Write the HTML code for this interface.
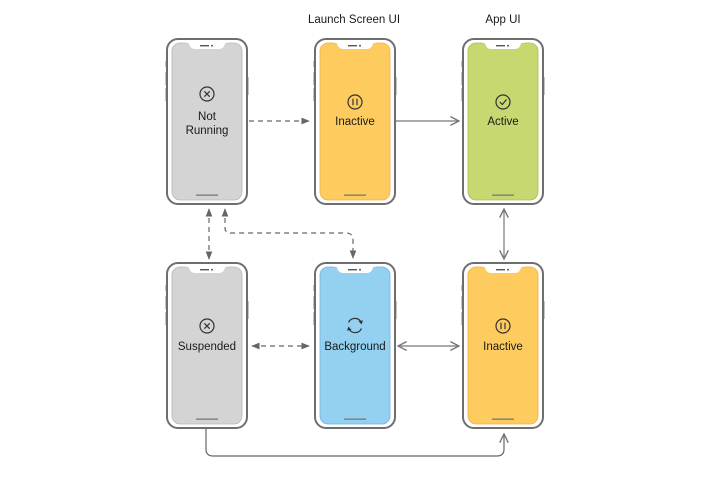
<!DOCTYPE html>
<html><head><style>
html,body{margin:0;padding:0;background:#fff;}
svg{display:block;}
text{font-family:"Liberation Sans",sans-serif;font-size:11.5px;fill:#1a1a1a;}
</style></head><body>
<svg width="714" height="477" viewBox="0 0 714 477" xmlns="http://www.w3.org/2000/svg">
<defs>
<marker id="tri" viewBox="0 0 10 10" refX="9" refY="5" markerWidth="7" markerHeight="7" orient="auto-start-reverse"><path d="M0,1 L10,5 L0,9 z" fill="#666"/></marker>
<marker id="chev" viewBox="0 0 10 10" refX="9" refY="5" markerWidth="9" markerHeight="9" orient="auto-start-reverse"><path d="M1,1 L9,5 L1,9" fill="none" stroke="#777" stroke-width="1.3"/></marker>
<g id="phone">
<rect x="-1.5" y="22" width="2" height="6" fill="#888"/>
<rect x="-1.5" y="33" width="2" height="13" fill="#888"/>
<rect x="-1.5" y="49" width="2" height="13" fill="#888"/>
<rect x="79.5" y="38" width="2" height="18" fill="#888"/>
<rect x="0" y="0" width="80" height="165" rx="11" fill="#fff" stroke="#6e6e6e" stroke-width="2"/>
</g>
<g id="notch">
<path d="M19,4 L21,4 Q22,4 22.5,6 Q24,10 28,10 L52,10 Q56,10 57.5,6 Q58,4 59,4 L61,4 L61,3 L19,3 z" fill="#fff"/>
<rect x="33" y="6" width="9" height="1.4" fill="#555"/>
<circle cx="45" cy="6.7" r="1" fill="#555"/>
<rect x="29" y="155.5" width="22" height="1.3" fill="#777"/>
</g>
</defs>

<text x="354" y="23" text-anchor="middle">Launch Screen UI</text>
<text x="503" y="23" text-anchor="middle">App UI</text>

<g transform="translate(167,39)"><use href="#phone"/><rect x="5" y="4" width="70" height="157" rx="8" fill="#d4d4d4" stroke="#b8b8b8" stroke-width="0.8"/><use href="#notch"/></g>
<g transform="translate(315,39)"><use href="#phone"/><rect x="5" y="4" width="70" height="157" rx="8" fill="#fecb5e" stroke="#f2b04a" stroke-width="0.8"/><use href="#notch"/></g>
<g transform="translate(463,39)"><use href="#phone"/><rect x="5" y="4" width="70" height="157" rx="8" fill="#c6d86f" stroke="#a9c056" stroke-width="0.8"/><use href="#notch"/></g>
<g transform="translate(167,263)"><use href="#phone"/><rect x="5" y="4" width="70" height="157" rx="8" fill="#d4d4d4" stroke="#b8b8b8" stroke-width="0.8"/><use href="#notch"/></g>
<g transform="translate(315,263)"><use href="#phone"/><rect x="5" y="4" width="70" height="157" rx="8" fill="#94d0f0" stroke="#6fb5e0" stroke-width="0.8"/><use href="#notch"/></g>
<g transform="translate(463,263)"><use href="#phone"/><rect x="5" y="4" width="70" height="157" rx="8" fill="#fecb5e" stroke="#f2b04a" stroke-width="0.8"/><use href="#notch"/></g>

<g fill="none" stroke="#333" stroke-width="1.2">
<circle cx="207" cy="94" r="7"/><path d="M204.3,91.3 L209.7,96.7 M209.7,91.3 L204.3,96.7"/>
<circle cx="355" cy="102" r="7"/><path d="M353,98.8 V105.2 M357,98.8 V105.2"/>
<circle cx="503" cy="102" r="7"/><path d="M499.8,102 L502.3,104.5 L506.5,99.5"/>
<circle cx="207" cy="326" r="7"/><path d="M204.3,323.3 L209.7,328.7 M209.7,323.3 L204.3,328.7"/>
<circle cx="503" cy="326" r="7"/><path d="M501,322.8 V329.2 M505,322.8 V329.2"/>
<path d="M348.5,322.5 A7,7 0 0 1 361,322"/><path d="M361.5,328.5 A7,7 0 0 1 349,329"/>
</g>
<path d="M358.5,321 L363,320.5 L361.5,324.5 z M351.5,330 L347,330.5 L348.5,326.5 z" fill="#333"/>

<text x="207" y="120" text-anchor="middle">Not</text>
<text x="207" y="134" text-anchor="middle">Running</text>
<text x="355" y="125" text-anchor="middle">Inactive</text>
<text x="503" y="125" text-anchor="middle">Active</text>
<text x="207" y="350" text-anchor="middle">Suspended</text>
<text x="355" y="350" text-anchor="middle">Background</text>
<text x="503" y="350" text-anchor="middle">Inactive</text>

<g fill="none" stroke="#666" stroke-width="1.2">
<path d="M249,121 H309" stroke-dasharray="5,4" marker-end="url(#tri)"/>
<path d="M396,121 H459" stroke="#777" marker-end="url(#chev)"/>
<path d="M504,209 V259" stroke="#777" marker-start="url(#chev)" marker-end="url(#chev)"/>
<path d="M209,209 V259" stroke-dasharray="5,4" marker-start="url(#tri)" marker-end="url(#tri)"/>
<path d="M225,209 V228 Q225,233 231,233 H346 Q353,233 353,240 V258" stroke-dasharray="5,4" marker-start="url(#tri)" marker-end="url(#tri)"/>
<path d="M252,346 H309" stroke-dasharray="5,4" marker-start="url(#tri)" marker-end="url(#tri)"/>
<path d="M398,346 H459" stroke="#777" marker-start="url(#chev)" marker-end="url(#chev)"/>
<path d="M206,429 V449 Q206,456 213,456 H497 Q504,456 504,449 V434" stroke="#666" marker-end="url(#chev)"/>
</g>
</svg>
</body></html>
